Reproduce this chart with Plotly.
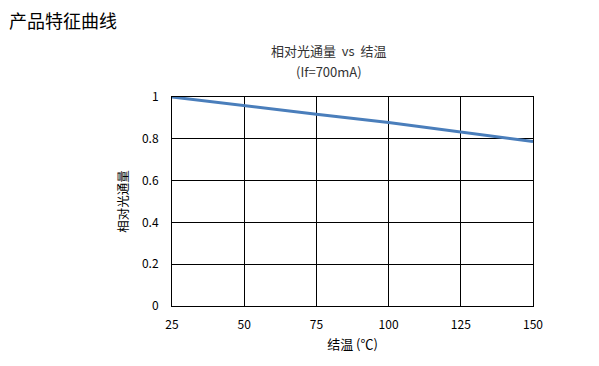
import plotly.graph_objects as go

temps = [25, 50, 75, 100, 125, 150]
flux = [1.0, 0.958, 0.918, 0.878, 0.833, 0.787]
x_ticks = [25, 50, 75, 100, 125, 150]
y_ticks = [0, 0.2, 0.4, 0.6, 0.8, 1]
y_tick_text = ["0", "0.2", "0.4", "0.6", "0.8", "1"]

font_cn = "Noto Sans CJK SC, Noto Sans, sans-serif"

fig = go.Figure()
fig.add_trace(go.Scatter(x=temps, y=flux, mode="lines",
                         line=dict(color="#4a7ebb", width=3), showlegend=False,
                         cliponaxis=False))

L, R, T, B = 172, 533, 97, 306
W, H = R - L, B - T

fig.update_layout(
    width=599, height=366,
    margin=dict(l=L, r=599 - R, t=T, b=366 - B, autoexpand=False),
    paper_bgcolor="white", plot_bgcolor="white",
    font=dict(family=font_cn, color="#000000", size=12),
    xaxis=dict(range=[25, 150], tickvals=x_ticks, ticktext=[str(t) for t in x_ticks],
               showgrid=True, gridcolor="#000000", gridwidth=1,
               showline=True, linecolor="#000000", linewidth=1, mirror=True,
               zeroline=False, ticks="outside", ticklen=8, tickcolor="rgba(0,0,0,0)",
               tickfont=dict(size=12),
               title=dict(text="结温 (℃)", font=dict(size=13), standoff=8)),
    yaxis=dict(range=[0, 1], tickvals=y_ticks, ticktext=y_tick_text,
               showgrid=True, gridcolor="#000000", gridwidth=1,
               showline=True, linecolor="#000000", linewidth=1, mirror=True,
               zeroline=False, ticks="outside", ticklen=10, tickcolor="rgba(0,0,0,0)",
               tickfont=dict(size=12),
               title=dict(text="相对光通量", font=dict(size=12.5), standoff=10)),
    annotations=[
        dict(text="产品特征曲线", xref="paper", yref="paper", x=(7 - L) / W,
             y=1 + (T - 20) / H, xanchor="left", yanchor="middle", showarrow=False,
             font=dict(size=18, family=font_cn, color="#000000")),
        dict(text="相对光通量  vs  结温", xref="paper", yref="paper", x=(329 - L) / W,
             y=1 + (T - 51) / H, xanchor="center", yanchor="middle", showarrow=False,
             font=dict(size=13, family=font_cn, color="#333333")),
        dict(text="(If=700mA)", xref="paper", yref="paper", x=(329 - L) / W,
             y=1 + (T - 72) / H, xanchor="center", yanchor="middle", showarrow=False,
             font=dict(size=13, family=font_cn, color="#333333")),
    ],
)

fig.write_html("out.html", config={"displayModeBar": False},
               post_script="document.body.style.margin='0';document.body.style.padding='0';")
